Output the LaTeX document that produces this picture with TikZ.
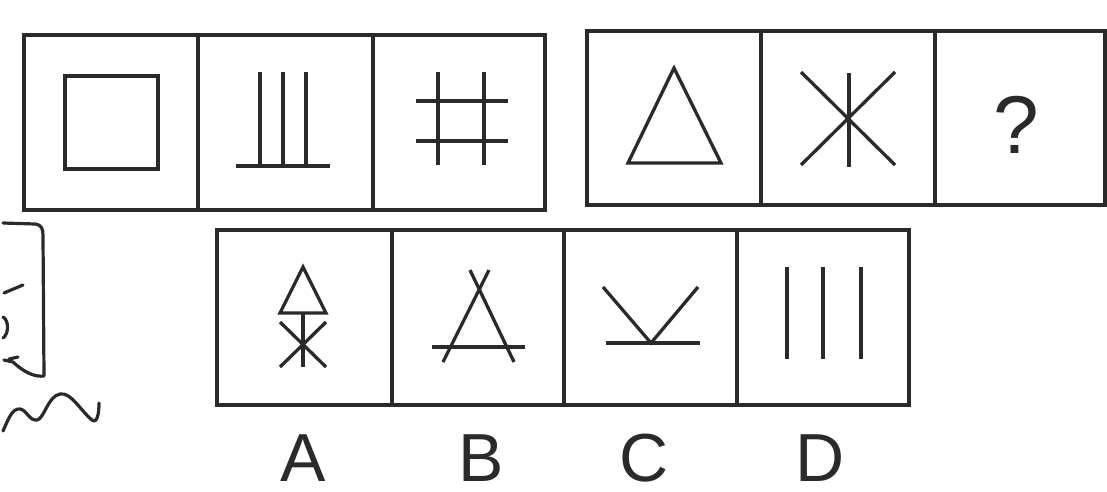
\documentclass[tikz,border=0pt]{standalone}
\usepackage{fontspec}
\setmainfont{Liberation Sans}
\begin{document}
\begin{tikzpicture}[x=1pt,y=-1pt,
  frame/.style={draw=ink,line width=3.4pt},
  fig/.style={draw=ink,line width=3.3pt},
  pen/.style={draw=ink,line width=3.2pt,line cap=round,line join=round},
  lbl/.style={text=ink,inner sep=0pt,anchor=base,text depth=0pt,font=\fontsize{68}{68}\selectfont},
  qm/.style={text=ink,inner sep=0pt,anchor=base,text depth=0pt,font=\fontsize{82}{82}\selectfont}]
\definecolor{ink}{HTML}{2A2A2A}
\useasboundingbox (0,0) rectangle (1107,491);
\fill[white] (0,0) rectangle (1107,491);
% ---- top-left strip
\draw[frame] (24,35) rectangle (545,210);
\draw[frame] (198,35) -- (198,210);
\draw[frame] (373,35) -- (373,210);
% square
\draw[fig] (65,76) rectangle (158,169);
% III on base
\draw[fig] (236,166) -- (330,166);
\draw[fig] (260,72) -- (260,166);
\draw[fig] (283,72) -- (283,166);
\draw[fig] (306,72) -- (306,166);
% #
\draw[fig] (438,72) -- (438,165);
\draw[fig] (484,72) -- (484,165);
\draw[fig] (416,101) -- (508,101);
\draw[fig] (416,141) -- (508,141);
% ---- top-right strip
\draw[frame] (587,31) rectangle (1105,205);
\draw[frame] (761,31) -- (761,205);
\draw[frame] (935,31) -- (935,205);
% triangle
\draw[fig,line join=miter] (674,68) -- (721,163) -- (628,163) -- cycle;
% asterisk
\draw[fig] (849,73) -- (849,167);
\draw[fig] (801,72) -- (895,165);
\draw[fig] (895,72) -- (801,165);
\node[qm] (q) at (1016,153) {?};
% ---- bottom strip
\draw[frame] (217,230) rectangle (909,405);
\draw[frame] (392,230) -- (392,405);
\draw[frame] (564,230) -- (564,405);
\draw[frame] (737,230) -- (737,405);
% A: triangle over asterisk
\draw[fig,line join=miter] (303,267) -- (326,313) -- (280,313) -- cycle;
\draw[fig] (303,313) -- (303,367);
\draw[fig] (280,322) -- (326,367);
\draw[fig] (326,322) -- (280,367);
% B: crossing lines with bar
\draw[fig] (470,270) -- (514,362);
\draw[fig] (489,270) -- (443,362);
\draw[fig] (432,347) -- (525,347);
% C: V on bar
\draw[fig] (603,287) -- (651,343) -- (698,287);
\draw[fig] (606,343) -- (700,343);
% D: three bars
\draw[fig] (787,267) -- (787,359);
\draw[fig] (823,267) -- (823,359);
\draw[fig] (861,267) -- (861,359);
% labels
\node[lbl] (la) at (303,481) {A};
\node[lbl] (lb) at (481,481) {B};
\node[lbl] (lc) at (644,481) {C};
\node[lbl] (ld) at (820,481) {D};
% ---- hand-drawn scribbles at left edge
\draw[pen] (3,223) -- (35,224) .. controls (42,225) and (43,229) .. (43,236)
  -- (44,376) .. controls (36,377) and (26,374) .. (13,362) -- (4,360);
\draw[pen] (9,359) -- (18,357);
\draw[pen] (4,293) -- (23,285);
\draw[pen] (3,317) .. controls (9,320) and (9,334) .. (3,338);
\draw[pen] (3,431) .. controls (8,420) and (12,408) .. (20,409)
  .. controls (27,410) and (29,421) .. (37,420)
  .. controls (44,419) and (48,396) .. (60,394)
  .. controls (71,392) and (80,410) .. (92,420)
  .. controls (97,424) and (99,414) .. (99,403);
\end{tikzpicture}
\end{document}
